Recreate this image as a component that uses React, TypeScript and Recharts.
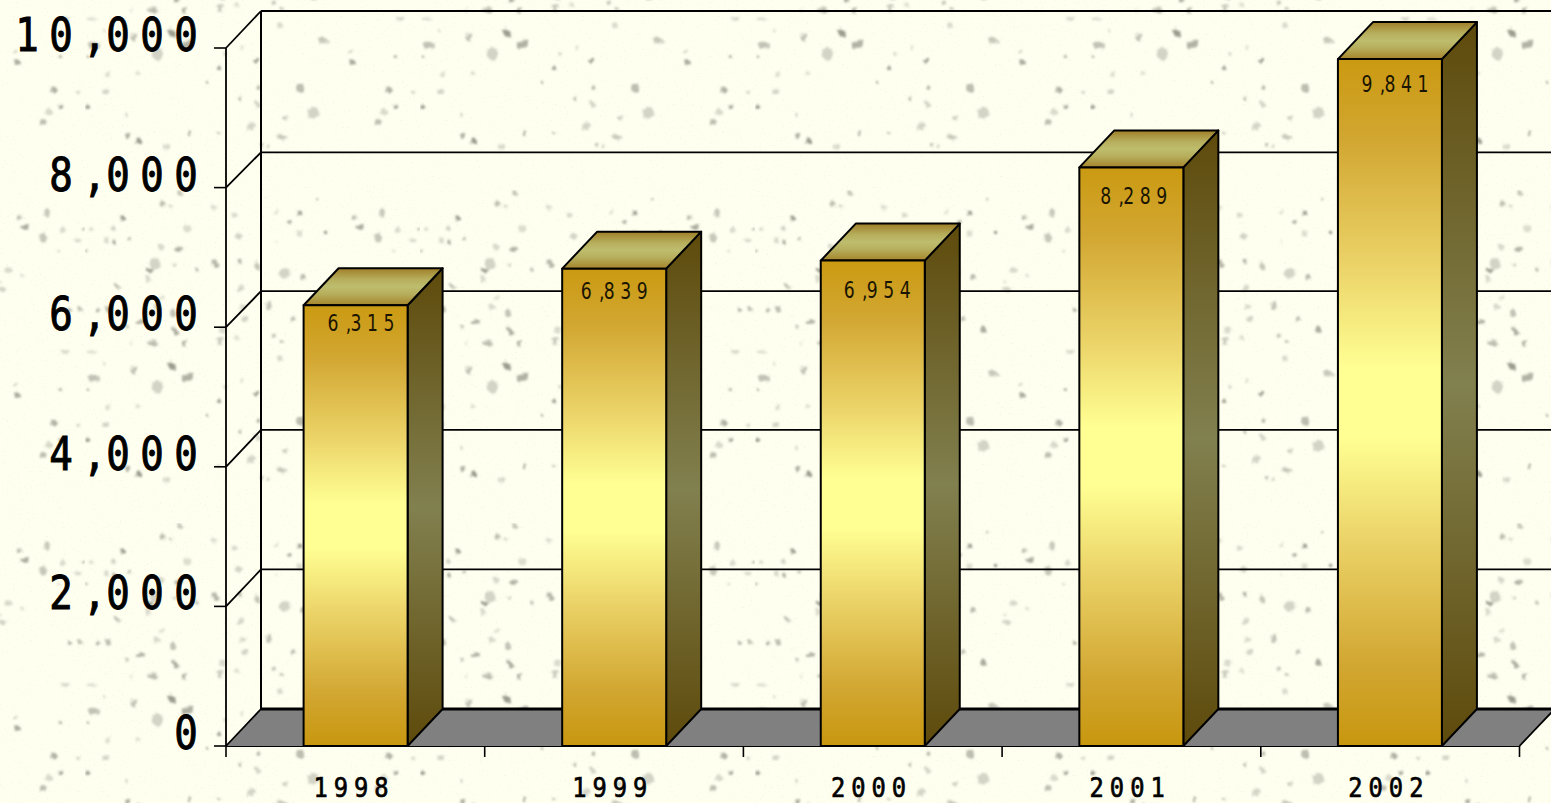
import React from "react";
import { BarChart, Bar, XAxis, YAxis, LabelList } from "recharts";

const years = ["1998", "1999", "2000", "2001", "2002"];
const amounts = [6315, 6839, 6954, 8289, 9841];
const yTicks = [0, 2000, 4000, 6000, 8000, 10000];
const labelRight = [33.5, 28, 32.5, 30.5, 33];
const labelDrop = [26, 30.5, 37.5, 36.5, 33];

const rows = years.map((year, i) => ({ year, amount: amounts[i] }));

const DX = 35;
const DY = 37;
const PLOT_H = 698;
const RIGHT_END = 1519.5;
const AXIS_X = 226;
const BOTTOM_H = 57;
const PAGE_W = 1551;
const PAGE_H = 803;
const FLOOR_Y = PAGE_H - BOTTOM_H;
const STEP = (RIGHT_END - AXIS_X) / years.length;
const FONT = "'DejaVu Sans Mono', monospace";

// Background texture: one tile of the repeating paper image [x, y, rx, ry, angle, strength]
const specks: number[][] = [
  [87,176,6,3,40,.9],[103,187,7,4,-30,.7],[72,197,6,7,10,.4],[9,188,7,3.5,10,.55],[49,180,3,5,10,.55],
  [172,204,3.5,2,-15,.9],[134,211,2.5,2.5,0,.8],[122,225,1.5,1.5,0,.9],[173,230,2.5,2.5,0,.7],[215,231,4,5,-30,.6],
  [155,242,3,2,50,.95],[172,247,5,3,40,.4],[228,256,6,7,20,.4],[3,250,2.5,2.5,0,.9],[42,258,1.5,1.5,0,.6],
  [166,269,4,4,0,.4],[200,261,2,2,0,.6],[43,278,2.5,2.5,0,.7],[54,284,3,3,0,.9],[105,277,2,2,0,.95],
  [134,276,1.5,1.5,0,.7],[197,280,6,2.5,10,.5],[176,288,2,2,0,.7],[183,289,2,2,0,.5],[82,290,3.5,3.5,0,.35],
  [238,183,6,2.5,10,.5],[265,195,2,2,0,.6],[267,205,3,3,45,.75],[304,233,3,3,-45,.7],[310,250,2.5,2.5,0,.9],
  [299,255,4,4,0,.35],[293,265,3.5,3.5,0,.6],[21,235,3,3,0,.4],[52,217,3,2,0,.35],[23,217,3,3,0,.3],
  [328,235,2.5,2.5,0,.35],[195,168,3,3,0,.35],[20,174,2,2,0,.35],[157,191,2,2,0,.3],[139,197,2,2,0,.4],
  [7,162,5,2,0,.35],[315,162,5,2,0,.35],[68,152,5,2,10,.4],[100,152,2,2,0,.8],[135,150,3,3,0,.5],
  [152,148,3,3,0,.3],[188,146,2.5,2.5,0,.5],[197,152,2,2,0,.8],[310,200,2,2,0,.9],[3,200,2,2,0,.9],
  [95,3,3,3,0,.5],[77,14,3,3,0,.6],[86,17,2,2,0,.5],[128,17,4,2,30,.35],[38,28,3,3,0,.9],
  [28,38,3,2.5,0,.4],[45,49,2,2,0,.7],[29,52,2,2,0,.8],[21,50,3,3,0,.35],[102,38,4,4,0,.3],
  [93,59,5,2.5,-15,.7],[76,57,3,3,40,.35],[70,74,6,6,0,.4],[64,80,4,2.5,10,.85],[89,74,2,2,0,.6],
  [130,73,3,5,-30,.65],[112,79,2,2,0,.6],[63,89,3,3,0,.35],[32,96,4,2.5,40,.6],[77,108,3,3,0,.3],
  [72,117,3,3,0,.35],[88,123,3,5,-20,.55],[56,132,5,2,-10,.7],[42,137,2,2,0,.7],[37,126,1.5,1.5,0,.5],
  [90,141,5,2.5,45,.75],[99,155,2,2,0,.8],[68,154,6,2,15,.5],[46,153,2,2,0,.4],[138,140,4,4,0,.35],
  [135,153,2.5,2.5,0,.4],[297,23,3,5,0,.5],[293,48,5,5,0,.5],[313,40,3,3,0,.35],[333,39,1.5,1.5,0,.7],
  [328,50,3,3,0,.35],[7,39,2,2,0,.35],[308,61,1.5,1.5,0,.6],[1,61,1.5,1.5,0,.6],[320,120,2,2,0,.7],
  [330,119,4,2,40,.6],[13,120,2,2,0,.7],[23,119,4,2,40,.6],[149,25,3,3,0,.35],[153,46,4,3,0,.4],
  [154,71,2.5,2.5,0,.75],[172,76,3,5,-20,.5],[156,98,3,3,0,.4],[158,117,4,3,0,.35],[160,129,3,3,0,.4],
  [191,22,3,2,-30,.3],[215,23,3.5,2.5,0,.85],[204,32,2.5,2.5,0,.7],[214,43,2.5,4,10,.3],[191,52,2,2,0,.35],
  [200,83,6,6,30,.4],[218,87,3,3,0,.65],[184,116,3,5,0,.55],[208,129,2.5,2.5,0,.6],[233,9,2,2,30,.6],
  [241,42,2.5,2.5,0,.9],[269,28,3,2,-15,.6],[275,37,4,3,10,.75],[258,80,4,3,0,.35],[250,92,2,2,0,.35],
  [272,86,2,2,0,.4],[252,99,6,2.5,0,.4],[228,139,3,4,-30,.75],
];

function Paper() {
  return (
    <svg width={PAGE_W} height={PAGE_H} style={{ position: "absolute", left: 0, top: 0 }}>
      <defs>
        <filter id="soft" x="-5%" y="-5%" width="110%" height="110%">
          <feTurbulence type="fractalNoise" baseFrequency="0.25" numOctaves="2" seed="3" result="n" />
          <feDisplacementMap in="SourceGraphic" in2="n" scale="6" xChannelSelector="R" yChannelSelector="G" />
          <feGaussianBlur stdDeviation="0.8" />
        </filter>
        <filter id="grain" x="0" y="0" width="100%" height="100%">
          <feTurbulence type="fractalNoise" baseFrequency="0.45" numOctaves="2" seed="7" />
          <feColorMatrix type="matrix" values="0 0 0 0 0.6  0 0 0 0 0.5  0 0 0 0 0.45  0 0 0 9 -6" />
        </filter>
        <pattern id="paper" patternUnits="userSpaceOnUse" width={335} height={333} patternTransform="translate(420,-143)">
          <rect width={335} height={333} fill="#FFFFF0" />
          <g filter="url(#soft)">
            {specks.map(([x, y, rx, ry, a, o], i) => (
              <ellipse key={i} cx={x} cy={y} rx={rx * 0.9} ry={ry * 0.9} fill="#66665A" opacity={o * 0.72} transform={`rotate(${a} ${x} ${y})`} />
            ))}
          </g>
        </pattern>
      </defs>
      <rect width={PAGE_W} height={PAGE_H} fill="url(#paper)" />
      <rect width={PAGE_W} height={PAGE_H} filter="url(#grain)" opacity={0.1} />
    </svg>
  );
}

function charCentres(text: string) {
  const out: number[] = [];
  let pos = 186;
  const chars = text.split("");
  for (let i = chars.length - 1; i >= 0; i--) {
    if (chars[i] === ",") {
      out.unshift(pos - 23.5);
      pos -= 57;
    } else {
      out.unshift(pos);
      if (i > 0 && chars[i - 1] !== ",") pos -= 34;
    }
  }
  return out;
}

function ValueTick(props: any) {
  const { y, payload } = props;
  const value: number = payload.value;
  const isFloor = value === 0;
  const isTop = value === yTicks[yTicks.length - 1];
  const backX = AXIS_X + DX;
  const nudge = value === 8000 ? 1.7 : value === 6000 ? 1 : 0;
  const backY = y - DY + nudge;
  const text = value.toLocaleString("en-US");
  const sx = 0.85;
  return (
    <g>
      {isFloor && (
        <>
          <polygon
            points={`${AXIS_X},${y} ${backX},${backY} ${RIGHT_END + DX + 2},${backY} ${RIGHT_END},${y}`}
            fill="#808080"
            stroke="none"
          />
          <line x1={backX} y1={backY} x2={backX} y2={backY - PLOT_H} stroke="#000" strokeWidth={2} />
          <line x1={RIGHT_END} y1={y} x2={RIGHT_END + DX} y2={backY} stroke="#000" strokeWidth={1.8} />
        </>
      )}
      <line x1={AXIS_X} y1={y} x2={backX} y2={backY} stroke="#000" strokeWidth={1.8} />
      <line
        x1={backX}
        y1={backY}
        x2={PAGE_W}
        y2={backY}
        stroke="#000"
        strokeWidth={isFloor ? 3 : isTop ? 2.2 : 1.8}
      />
      <text
        transform={`translate(0,${y + 3}) scale(${sx},1)`}
        x={charCentres(text).map((c) => c / sx).join(" ")}
        y={0}
        textAnchor="middle"
        fontFamily={FONT}
        fontSize={46}
        stroke="#000"
        strokeWidth={1}
        fill="#000"
      >
        {text}
      </text>
    </g>
  );
}

function YearTick(props: any) {
  const { x, payload, index } = props;
  const left = x - STEP / 2;
  const isLast = index === years.length - 1;
  return (
    <g>
      <line x1={left} y1={FLOOR_Y} x2={left} y2={FLOOR_Y + 11} stroke="#000" strokeWidth={1.6} />
      {isLast && (
        <line x1={x + STEP / 2} y1={FLOOR_Y} x2={x + STEP / 2} y2={FLOOR_Y + 11} stroke="#000" strokeWidth={1.6} />
      )}
      <text
        transform={`translate(${x - 1.3},${FLOOR_Y + 51}) scale(0.88,1)`}
        textAnchor="middle"
        fontFamily={FONT}
        fontSize={27}
        letterSpacing={6.8}
        stroke="#000"
        strokeWidth={0.7}
        fill="#000"
      >
        {payload.value}
      </text>
    </g>
  );
}

function Box3D(props: any) {
  const { x, y, width, height } = props;
  const x2 = x + width;
  const y2 = y + height;
  return (
    <g stroke="#000" strokeWidth={2} strokeLinejoin="round">
      <polygon points={`${x2},${y} ${x2 + DX},${y - DY} ${x2 + DX},${y2 - DY} ${x2},${y2}`} fill="url(#sideFace)" />
      <polygon points={`${x},${y} ${x + DX},${y - DY} ${x2 + DX},${y - DY} ${x2},${y}`} fill="url(#topFace)" />
      <rect x={x} y={y} width={width} height={height} fill="url(#frontFace)" />
    </g>
  );
}

function ValueLabel(props: any) {
  const { x, y, width, value, index } = props;
  const right = x + width / 2 + labelRight[index];
  const base = y + labelDrop[index];
  const sx = 0.75;
  const text = Number(value).toLocaleString("en-US");
  const offs = [-56, -40.5, -33, -16.5, 0].map((v) => v / sx);
  return (
    <text
      transform={`translate(${right},${base}) scale(${sx},1)`}
      x={offs.join(" ")}
      y={0}
      textAnchor="middle"
      fontFamily="'DejaVu Sans', sans-serif"
      fontSize={23}
      fill="#1a1400"
    >
      {text}
    </text>
  );
}

export default function App() {
  return (
    <div style={{ position: "absolute", left: 0, top: 0, width: PAGE_W, height: PAGE_H, overflow: "hidden" }}>
      <Paper />
      <div style={{ position: "absolute", left: 0, top: 0 }}>
        <BarChart
          width={PAGE_W}
          height={PAGE_H}
          data={rows}
          margin={{ top: 48, right: PAGE_W - RIGHT_END, bottom: 0, left: 0 }}
          barCategoryGap={0}
        >
          <YAxis
            type="number"
            domain={[0, 10000]}
            ticks={yTicks}
            interval={0}
            width={AXIS_X}
            tickSize={12}
            tickMargin={0}
            tick={<ValueTick />}
            axisLine={{ stroke: "#000", strokeWidth: 1.8 }}
            tickLine={{ stroke: "#000", strokeWidth: 1.6 }}
          />
          <XAxis
            dataKey="year"
            height={BOTTOM_H}
            tick={<YearTick />}
            tickLine={false}
            axisLine={{ stroke: "#000", strokeWidth: 1.8 }}
            interval={0}
          />
          <Bar dataKey="amount" barSize={104} fill="none" stroke="none" isAnimationActive={false} />
        </BarChart>
      </div>
      <div style={{ position: "absolute", left: 0, top: 0 }}>
        <BarChart
          width={PAGE_W}
          height={PAGE_H}
          data={rows}
          margin={{ top: 48, right: PAGE_W - RIGHT_END, bottom: BOTTOM_H, left: AXIS_X + 0.6 }}
          barCategoryGap={0}
        >
          <defs>
            <linearGradient id="frontFace" x1="0" y1="0" x2="0" y2="1">
              <stop offset="0" stopColor="#CB9A12" />
              <stop offset="0.12" stopColor="#D2A732" />
              <stop offset="0.3" stopColor="#EBD368" />
              <stop offset="0.45" stopColor="#FFFF93" />
              <stop offset="0.55" stopColor="#FFFF93" />
              <stop offset="0.7" stopColor="#EBD368" />
              <stop offset="0.88" stopColor="#D2A732" />
              <stop offset="1" stopColor="#C8970F" />
            </linearGradient>
            <linearGradient id="sideFace" x1="0" y1="0" x2="0" y2="1">
              <stop offset="0" stopColor="#5E4A0B" />
              <stop offset="0.5" stopColor="#81804F" />
              <stop offset="1" stopColor="#5E4A0B" />
            </linearGradient>
            <linearGradient id="topFace" x1="0" y1="0" x2="0" y2="1">
              <stop offset="0" stopColor="#A07E28" />
              <stop offset="0.3" stopColor="#B6AE5C" />
              <stop offset="0.5" stopColor="#BEBD6E" />
              <stop offset="0.7" stopColor="#B6AE5C" />
              <stop offset="1" stopColor="#A5842A" />
            </linearGradient>
          </defs>
          <YAxis hide type="number" domain={[0, 10000]} />
          <XAxis hide dataKey="year" />
          <Bar dataKey="amount" barSize={104} shape={<Box3D />} isAnimationActive={false}>
            <LabelList dataKey="amount" content={<ValueLabel />} />
          </Bar>
        </BarChart>
      </div>
    </div>
  );
}
